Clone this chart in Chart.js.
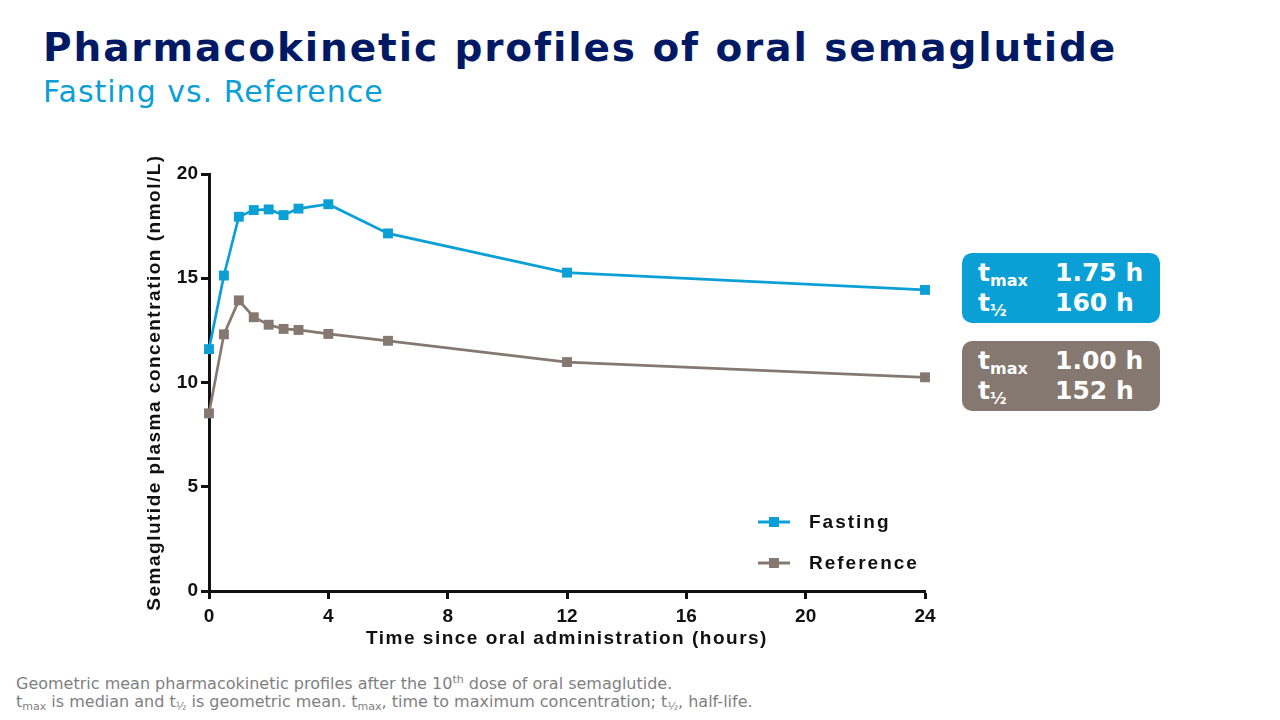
<!DOCTYPE html>
<html><head><meta charset="utf-8">
<script src="https://cdn.jsdelivr.net/npm/chart.js@4.4.1/dist/chart.umd.min.js"></script>
<style>
html,body{margin:0;padding:0;background:#fff;width:1280px;height:720px;overflow:hidden;position:relative;font-family:"DejaVu Sans",Verdana,sans-serif;}
#title{position:absolute;left:43px;top:25px;font-size:39px;line-height:46px;font-weight:bold;color:#001965;white-space:nowrap;letter-spacing:1.9px;}
#sub{position:absolute;left:43px;top:74px;font-size:30px;line-height:36px;color:#0aa0d6;white-space:nowrap;letter-spacing:1px;}
#wrap{position:absolute;left:130px;top:140px;width:820px;height:520px;}
.box{position:absolute;left:962px;width:198px;height:70px;border-radius:10px;color:#fff;font-weight:bold;}
.box .r{position:absolute;left:16px;font-size:25px;white-space:nowrap;}
.box .v{position:absolute;left:93px;font-size:25px;white-space:nowrap;}
.box sub{font-size:16px;vertical-align:-5px;}
#foot{position:absolute;left:16px;top:671px;font-size:16px;color:#7f7f7f;line-height:18px;white-space:nowrap;}
#foot sub{font-size:11px;vertical-align:-3px;}
#foot sup{font-size:11px;vertical-align:6px;}
</style></head><body>
<div id="title">Pharmacokinetic profiles of oral semaglutide</div>
<div id="sub">Fasting vs. Reference</div>
<div id="wrap"><canvas id="c" width="820" height="520"></canvas></div>
<div class="box" style="top:253px;background:#0aa0d6;">
  <div class="r" style="top:5px;">t<sub>max</sub></div><div class="v" style="top:5px;">1.75 h</div>
  <div class="r" style="top:35px;">t<sub>½</sub></div><div class="v" style="top:35px;">160 h</div>
</div>
<div class="box" style="top:341px;background:#857870;">
  <div class="r" style="top:5px;">t<sub>max</sub></div><div class="v" style="top:5px;">1.00 h</div>
  <div class="r" style="top:35px;">t<sub>½</sub></div><div class="v" style="top:35px;">152 h</div>
</div>
<div id="foot">Geometric mean pharmacokinetic profiles after the 10<sup>th</sup> dose of oral semaglutide.<br>t<sub>max</sub> is median and t<sub>½</sub> is geometric mean. t<sub>max</sub>, time to maximum concentration; t<sub>½</sub>, half-life.</div>
<script>
const times = [0, 0.5, 1, 1.5, 2, 2.5, 3, 4, 6, 12, 24];
const fasting = [11.6, 15.13, 17.95, 18.27, 18.3, 18.03, 18.34, 18.55, 17.15, 15.27, 14.44];
const reference = [8.52, 12.31, 13.94, 13.13, 12.77, 12.57, 12.52, 12.33, 12.0, 10.98, 10.25];
const xTicks = [0, 4, 8, 12, 16, 20, 24];
const yTicks = [0, 5, 10, 15, 20];
const seriesNames = ['Fasting', 'Reference'];
const colors = ['#0aa0d6', '#857870'];
const xTitle = 'Time since oral administration (hours)';
const yTitle = 'Semaglutide plasma concentration (nmol/L)';

const toPts = arr => times.map((t, i) => ({x: t, y: arr[i]}));
const boldFont = 'bold 19px "Liberation Sans", Arial, sans-serif';

const extrasPlugin = {
  id: 'extras',
  afterDraw(chart) {
    const ctx = chart.ctx;
    const ca = chart.chartArea;
    ctx.save();
    ctx.fillStyle = '#111';
    ctx.font = boldFont;
    ctx.letterSpacing = '1.5px';
    ctx.textAlign = 'center'; ctx.textBaseline = 'middle';
    ctx.fillText(xTitle, (ca.left + ca.right) / 2, ca.bottom + 48);
    ctx.save();
    ctx.translate(ca.left - 54, (ca.top + ca.bottom) / 2);
    ctx.rotate(-Math.PI / 2);
    ctx.fillText(yTitle, 0, 0);
    ctx.restore();
    chart.data.datasets.forEach((ds, i) => {
      const y = ca.bottom - 69 + i * 41;
      const x0 = ca.left + 549;
      ctx.strokeStyle = ds.borderColor; ctx.lineWidth = 3;
      ctx.beginPath(); ctx.moveTo(x0, y); ctx.lineTo(x0 + 32, y); ctx.stroke();
      ctx.fillStyle = ds.borderColor; ctx.fillRect(x0 + 11, y - 5, 10, 10);
      ctx.fillStyle = '#111';
      ctx.font = boldFont;
      ctx.letterSpacing = '2px';
      ctx.textBaseline = 'middle'; ctx.textAlign = 'left';
      ctx.fillText(ds.label, x0 + 51, y + 1);
    });
    ctx.restore();
  }
};

const tickFont = {family: '"Liberation Sans", Arial, sans-serif', size: 19, weight: 'bold'};

new Chart(document.getElementById('c'), {
  type: 'line',
  data: {
    datasets: [fasting, reference].map((arr, i) => ({
      label: seriesNames[i],
      data: toPts(arr),
      borderColor: colors[i],
      backgroundColor: colors[i],
      borderWidth: 2.7,
      pointStyle: 'rect',
      pointRadius: 7,
      pointHoverRadius: 7,
      pointBorderWidth: 0,
      tension: 0,
      clip: false
    }))
  },
  options: {
    responsive: false,
    animation: false,
    events: [],
    layout: {padding: {top: 34, right: 25, left: 0, bottom: 0}},
    plugins: {legend: {display: false}, tooltip: {enabled: false}},
    scales: {
      x: {
        type: 'linear', min: 0, max: 24,
        afterBuildTicks: s => { s.ticks = xTicks.map(v => ({value: v})); },
        afterFit: s => { s.height = 69; },
        grid: {display: true, drawOnChartArea: false, drawTicks: true, tickLength: 8, tickWidth: 3, tickColor: '#111'},
        border: {display: true, width: 3, color: '#111'},
        ticks: {color: '#111', font: tickFont, padding: 6, maxRotation: 0},
        title: {display: false}
      },
      y: {
        min: 0, max: 20,
        afterBuildTicks: s => { s.ticks = yTicks.map(v => ({value: v})); },
        afterFit: s => { s.width = 79; },
        grid: {display: true, drawOnChartArea: false, drawTicks: true, tickLength: 8, tickWidth: 3, tickColor: '#111'},
        border: {display: true, width: 3, color: '#111'},
        ticks: {color: '#111', font: tickFont, padding: 3},
        title: {display: false}
      }
    }
  },
  plugins: [extrasPlugin]
});
</script>
</body></html>
